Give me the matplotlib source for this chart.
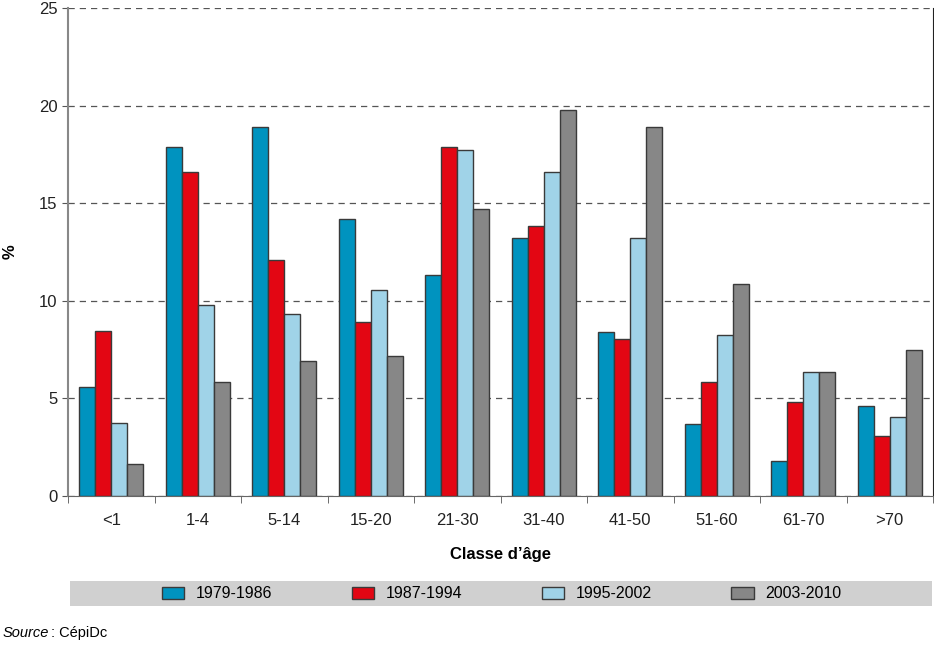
import matplotlib.pyplot as plt
import matplotlib.patches as mpatches
import numpy as np

plt.rcParams['font.family'] = ['Liberation Sans', 'DejaVu Sans']

# classes d'age
classes = ["<1", "1-4", "5-14", "15-20", "21-30", "31-40", "41-50", "51-60", "61-70", ">70"]
periodes = ["1979-1986", "1987-1994", "1995-2002", "2003-2010"]

# pourcentages
p1979 = [5.6, 17.9, 18.9, 14.2, 11.3, 13.2, 8.4, 3.7, 1.8, 4.6]
p1987 = [8.45, 16.6, 12.1, 8.9, 17.9, 13.85, 8.05, 5.85, 4.8, 3.05]
p1995 = [3.75, 9.8, 9.3, 10.55, 17.7, 16.6, 13.2, 8.25, 6.35, 4.05]
p2003 = [1.65, 5.85, 6.9, 7.15, 14.7, 19.8, 18.9, 10.85, 6.35, 7.5]

series = [p1979, p1987, p1995, p2003]
couleurs = ["#0093BF", "#E30613", "#A0D3E8", "#878787"]

fig = plt.figure(figsize=(9.34, 6.45), dpi=100)
ax = fig.add_axes([68/934, 1 - 496/645, (933-68)/934, (496-8)/645])

x = np.arange(len(classes))
w = 0.185
for i, (vals, c) in enumerate(zip(series, couleurs)):
    ax.bar(x + (i - 1.5) * w, vals, width=w, color=c, edgecolor="#3a3a3a",
           linewidth=1.0, label=periodes[i], zorder=3)

ax.set_xlim(-0.5, len(classes) - 0.5)
ax.set_ylim(0, 25)
ax.set_yticks(range(0, 26, 5))
ax.yaxis.grid(True, linestyle=(0, (5, 4)), color="#555555", linewidth=0.9, zorder=0)

ax.set_xticks(x)
ax.set_xticklabels(classes, fontsize=12, color="#222222")
ax.set_xticks(np.arange(-0.5, len(classes)), minor=True)
ax.tick_params(axis="x", which="major", length=0, pad=12)
ax.tick_params(axis="x", which="minor", length=5, color="#555555", direction="out")
ax.tick_params(axis="y", labelsize=12, labelcolor="#222222", length=4, color="#555555")

ax.spines["top"].set_visible(False)
ax.spines["left"].set_color("#888888")
ax.spines["left"].set_linewidth(1.5)
ax.spines["bottom"].set_color("#666666")
ax.spines["right"].set_color("#222222")

ax.set_xlabel("Classe d\u2019âge", fontsize=12, fontweight="bold", labelpad=14)
ax.set_ylabel("%", fontsize=12, fontweight="bold")
ax.yaxis.set_label_coords(-0.058, 0.5)

# bandeau gris de la legende
fig.patches.append(mpatches.Rectangle((70/934, 1 - 606/645), (932-70)/934, 25/645,
                                      transform=fig.transFigure, facecolor="#D0D0D0",
                                      edgecolor="none", zorder=0))
fig.legend(loc="center", bbox_to_anchor=(0.537, 1 - 594/645), ncol=4, frameon=False,
           fontsize=11.5, handlelength=1.4, handleheight=0.8, handletextpad=0.7,
           columnspacing=5.0)

t = fig.text(3/934, 1 - 633/645, "Source", fontsize=10.5, style="italic", va="center")
r = fig.canvas.get_renderer()
bb = t.get_window_extent(renderer=r)
fig.text((bb.x1 + 2) / 934, 1 - 633/645, ": CépiDc", fontsize=10.5, va="center")

fig.savefig("out.png", dpi=100)
